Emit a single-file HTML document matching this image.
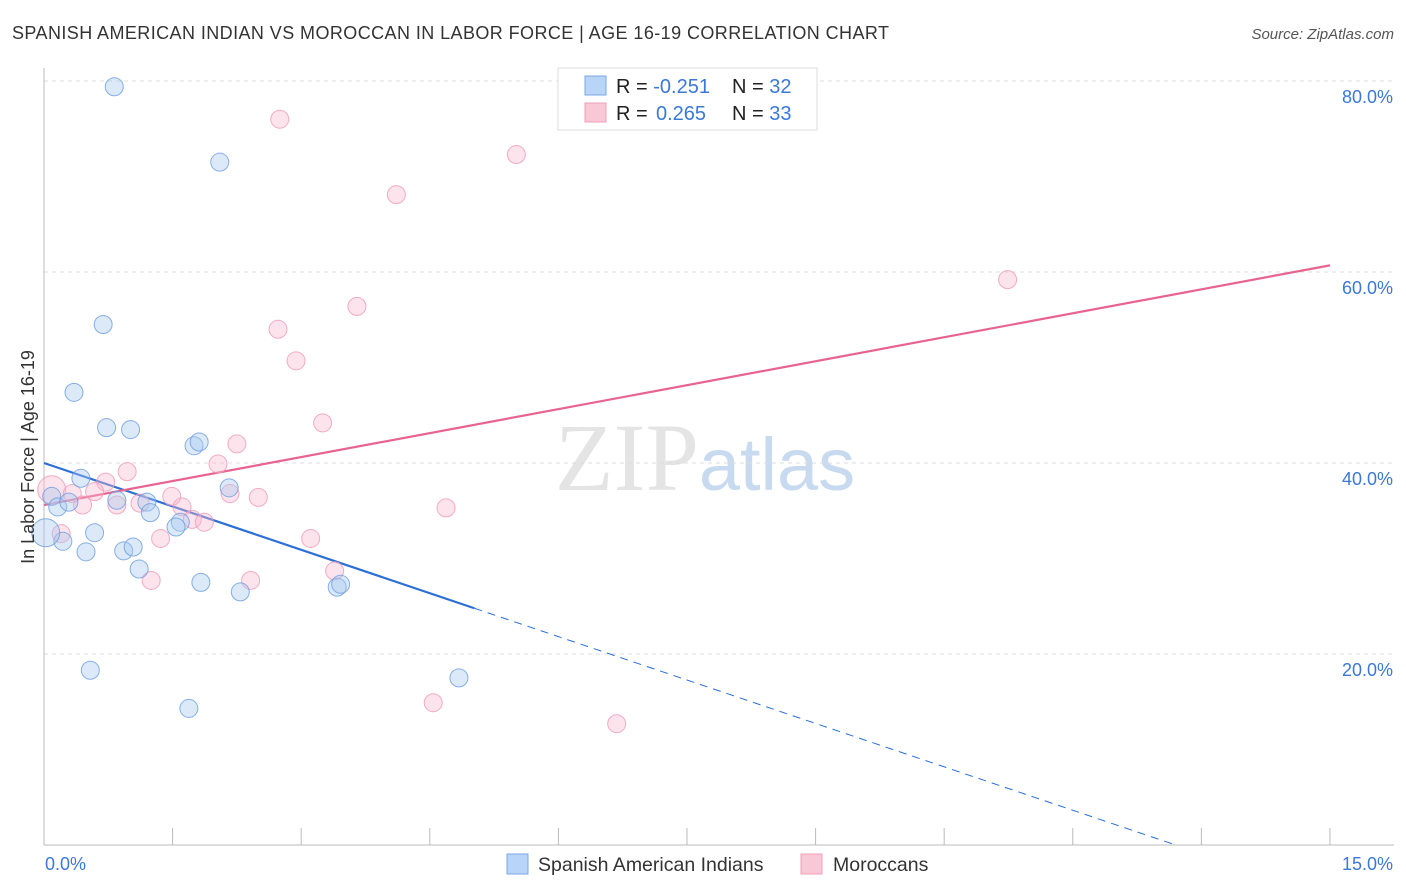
<!DOCTYPE html>
<html><head><meta charset="utf-8"><style>
body{margin:0;background:#fff;font-family:"Liberation Sans",sans-serif;}
svg{display:block}
</style></head><body>
<svg id="chart" width="1406" height="892" xmlns="http://www.w3.org/2000/svg">
<text x="12" y="39" font-size="18" fill="#333" textLength="877">SPANISH AMERICAN INDIAN VS MOROCCAN IN LABOR FORCE | AGE 16-19 CORRELATION CHART</text>
<text x="1394" y="39" font-size="15" fill="#555" text-anchor="end" font-style="italic">Source: ZipAtlas.com</text>
<text x="705" y="490" font-size="96" fill="#e4e4e4" text-anchor="middle" font-family="Liberation Serif,serif">ZIP<tspan fill="#c8daf0" font-family="Liberation Sans,sans-serif" font-size="74">atlas</tspan></text>
<g id="grid"></g><g id="axes"></g><g id="lines"></g><g id="pts"></g>
<g>
<rect x="558" y="68" width="259" height="62" fill="#fff" stroke="#ddd"/>
<rect x="585" y="76" width="21" height="19" fill="#b8d4f6" stroke="#7aa8e6"/>
<rect x="585" y="103" width="21" height="19" fill="#f9c8d6" stroke="#f0a0b8"/>
<text x="616" y="93" font-size="20" fill="#222">R = <tspan fill="#3b78d8">-0.251</tspan><tspan x="732">N = </tspan><tspan fill="#3b78d8">32</tspan></text>
<text x="616" y="120" font-size="20" fill="#222">R = <tspan fill="#3b78d8" x="656">0.265</tspan><tspan x="732">N = </tspan><tspan fill="#3b78d8">33</tspan></text>
</g>
<text transform="translate(34,457) rotate(-90)" font-size="18" fill="#333" text-anchor="middle">In Labor Force | Age 16-19</text>
<g>
<rect x="507" y="854" width="21" height="20" fill="#b8d4f6" stroke="#7aa8e6"/>
<text x="538" y="871" font-size="19.5" fill="#333">Spanish American Indians</text>
<rect x="801" y="854" width="21" height="20" fill="#f9c8d6" stroke="#f0a0b8"/>
<text x="833" y="871" font-size="19.5" fill="#333">Moroccans</text>
</g>
</svg>
<script>
const blueX=[0.82,2.05,0.69,0.35,0.73,1.01,1.75,1.81,0.43,2.16,0.09,0.16,0.29,0.85,1.20,1.24,1.59,1.54,0.59,0.22,0.02,0.49,0.93,1.04,1.11,1.83,2.29,3.42,3.46,0.54,4.84,1.69];
const blueY=[79.4,71.5,54.5,47.4,43.7,43.5,41.8,42.2,38.4,37.4,36.5,35.4,35.9,36.1,35.9,34.8,33.8,33.3,32.7,31.8,32.7,30.7,30.8,31.2,28.9,27.5,26.5,27.0,27.3,18.3,17.5,14.3];
const pinkX=[2.75,5.51,4.11,11.24,3.65,2.73,2.94,3.25,2.25,2.03,0.97,0.72,0.09,0.33,0.59,0.45,0.85,1.12,1.49,1.61,1.73,1.87,2.17,2.50,4.69,1.36,3.11,0.20,3.39,1.25,2.41,4.54,6.68];
const pinkY=[76.0,72.3,68.1,59.2,56.4,54.0,50.7,44.2,42.0,39.9,39.1,38.0,37.2,36.8,37.0,35.6,35.6,35.8,36.5,35.4,34.1,33.8,36.8,36.4,35.3,32.1,32.1,32.6,28.7,27.7,27.7,14.9,12.7];
const yTicks=[20,40,60,80];
const xTickLabels=["0.0%","15.0%"];
const blueTrend=[40.0,-3.03]; const pinkTrend=[35.6,1.673];
const X=v=>44+v*85.73, Y=v=>845-v*9.55;
const NS="http://www.w3.org/2000/svg";
function mk(p,t,a){const e=document.createElementNS(NS,t);for(const k in a)e.setAttribute(k,a[k]);p.appendChild(e);return e;}
const grid=document.getElementById('grid'),axes=document.getElementById('axes'),lines=document.getElementById('lines'),pts=document.getElementById('pts');
yTicks.forEach(t=>{const l=mk(grid,'line',{x1:44,x2:1394,y1:Y(t),y2:Y(t),stroke:'#ddd','stroke-dasharray':'4,4'});


const tx=mk(axes,'text',{x:1393,y:Y(t)+22,'font-size':18,fill:'#3b78d8','text-anchor':'end'});tx.textContent=t.toFixed(1)+'%';

});
mk(axes,'line',{x1:44,x2:44,y1:68,y2:845,stroke:'#bbb'});
mk(axes,'line',{x1:44,x2:1394,y1:845,y2:845,stroke:'#bbb'});
for(let i=0;i<=10;i++){mk(axes,'line',{x1:X(i*1.5),x2:X(i*1.5),y1:828,y2:845,stroke:'#bbb'});}
let t1=mk(axes,'text',{x:45,y:870,'font-size':18,fill:'#3b78d8'});t1.textContent=xTickLabels[0];


let t2=mk(axes,'text',{x:1393,y:870,'font-size':18,fill:'#3b78d8','text-anchor':'end'});t2.textContent=xTickLabels[1];


function dot(x,y,r,fill,stroke,name){const c=mk(pts,'circle',{cx:X(x),cy:Y(y),r:r,fill:fill,'fill-opacity':0.4,stroke:stroke,'stroke-width':1,'stroke-opacity':0.8});

}
pinkX.forEach((x,i)=>dot(x,pinkY[i],i==12?14:9,'#f9b8cc','#ee9ab6','moroccan-point'));
blueX.forEach((x,i)=>dot(x,blueY[i],i==20?14:9,'#a8c8f0','#6c9ce0','spanish-american-indian-point'));
const bEnd=5.02, bZero=-blueTrend[0]/blueTrend[1];
let bl=mk(lines,'line',{x1:X(0),y1:Y(blueTrend[0]),x2:X(bEnd),y2:Y(blueTrend[0]+blueTrend[1]*bEnd),stroke:'#2b6fd6','stroke-width':2.2});


let bd=mk(lines,'line',{x1:X(bEnd),y1:Y(blueTrend[0]+blueTrend[1]*bEnd),x2:X(bZero),y2:Y(0),stroke:'#2b6fd6','stroke-width':1,'stroke-dasharray':'8,6'});


let pl=mk(lines,'line',{x1:X(0),y1:Y(pinkTrend[0]),x2:X(15),y2:Y(pinkTrend[0]+pinkTrend[1]*15),stroke:'#e8648e','stroke-width':2.2});


</script>
</body></html>
